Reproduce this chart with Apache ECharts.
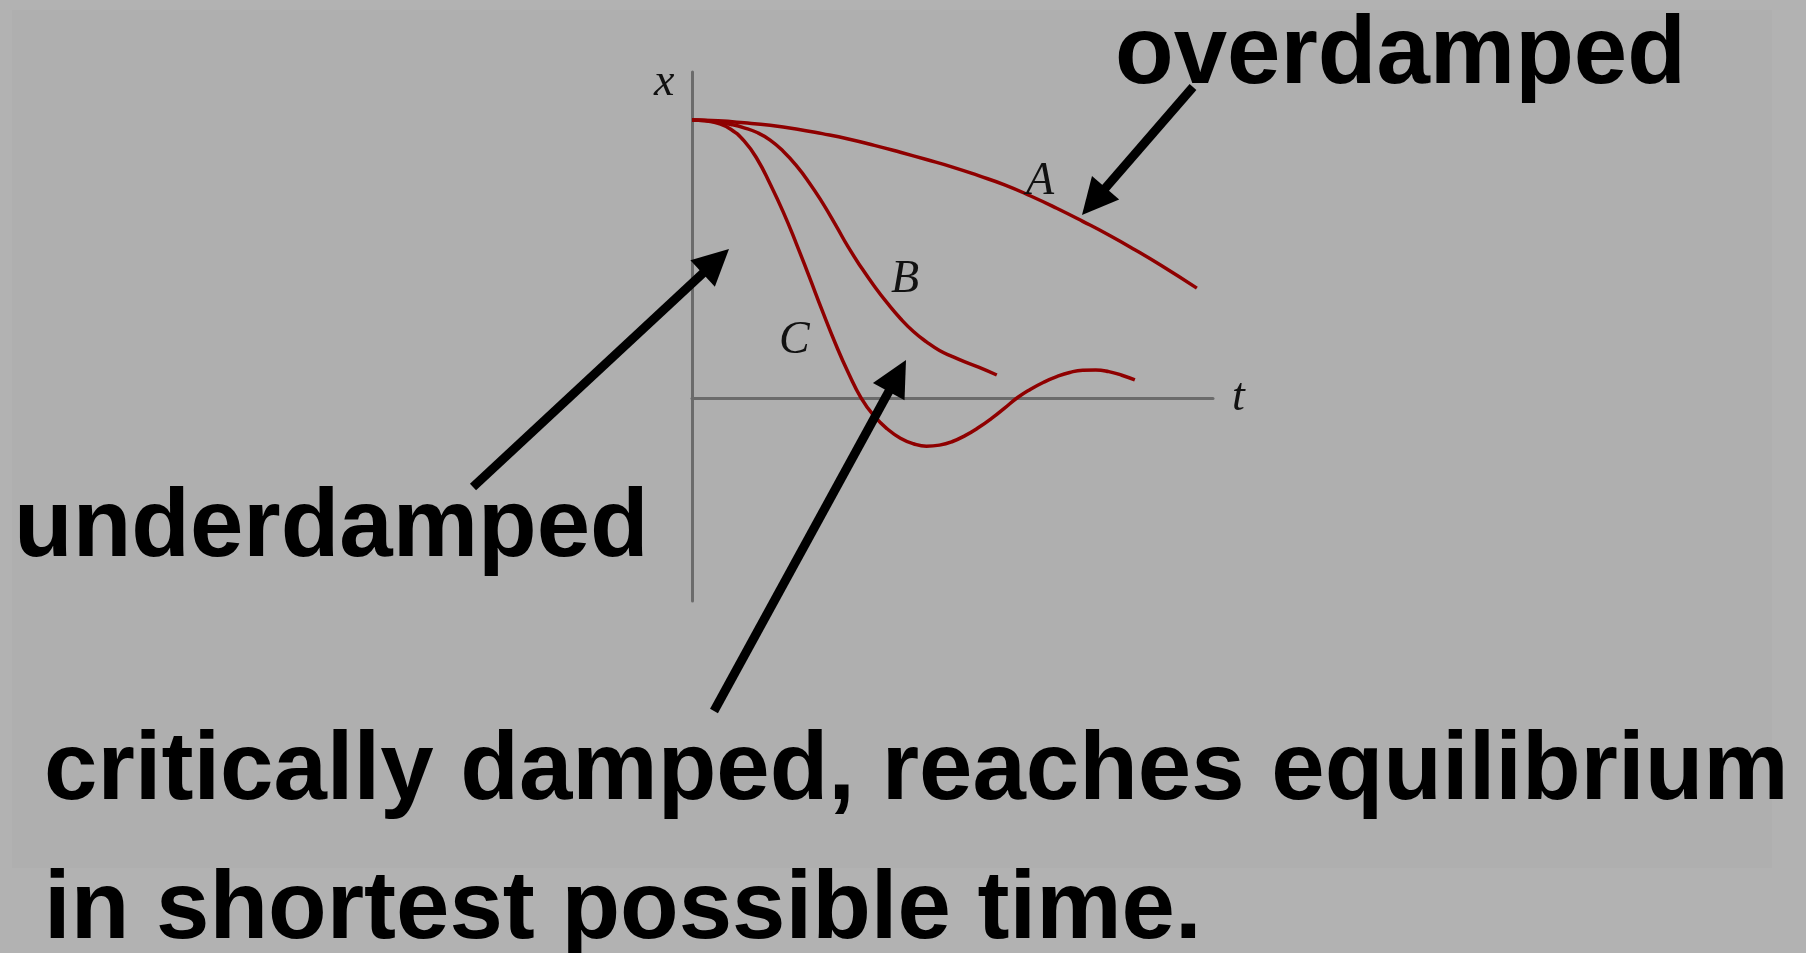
<!DOCTYPE html>
<html>
<head>
<meta charset="utf-8">
<title>damped oscillation</title>
<script src="https://cdn.jsdelivr.net/npm/echarts@6/dist/echarts.min.js"></script>
<style>
html, body { margin: 0; padding: 0; background: #b2b2b2; }
#chart { width: 1806px; height: 953px; }
</style>
</head>
<body>
<div id="chart"></div>
<script>
// curves: t along the axis, x = displacement (start = 1)
var tA = [0, 0.5, 1, 1.5, 2, 2.5, 3, 3.5, 4, 4.5, 5, 5.5, 6, 6.5, 7, 7.5, 8, 8.5, 9, 9.69];
var xA = [1, 0.997, 0.99, 0.981, 0.968, 0.951, 0.932, 0.909, 0.884, 0.858, 0.831, 0.8, 0.767, 0.727, 0.683, 0.636, 0.587, 0.534, 0.478, 0.396];

var tB = [0, 0.25, 0.5, 0.75, 1, 1.25, 1.5, 1.75, 2, 2.25, 2.5, 2.75, 3, 3.25, 3.5, 3.75, 4, 4.25, 4.5, 4.75, 5, 5.25, 5.5, 5.85];
var xB = [1, 0.998, 0.992, 0.984, 0.972, 0.955, 0.928, 0.888, 0.837, 0.775, 0.704, 0.625, 0.543, 0.47, 0.403, 0.342, 0.287, 0.24, 0.203, 0.172, 0.15, 0.13, 0.112, 0.084];

var tC = [0, 0.25, 0.5, 0.75, 1, 1.25, 1.5, 1.75, 2, 2.25, 2.5, 2.75, 3, 3.25, 3.5, 3.75, 4, 4.25, 4.5,
	4.75, 5, 5.25, 5.5, 5.75, 6, 6.25, 6.5, 6.75, 7, 7.25, 7.5, 7.75, 8, 8.25, 8.5];
var xC = [1, 0.997, 0.988, 0.966, 0.925, 0.86, 0.77, 0.67, 0.557, 0.437, 0.315, 0.198, 0.092, 0.0, -0.064, -0.11, -0.143, -0.163, -0.172,
	-0.168, -0.155, -0.133, -0.105, -0.072, -0.035, 0.003, 0.033, 0.058, 0.078, 0.093, 0.101, 0.102, 0.096, 0.083, 0.066];

var curveNames = ['A', 'B', 'C'];

var chart;

window.onload = function() {
	chart = echarts.init(document.getElementById('chart'));
	chart.setOption(buildOption());
};

function pairs(ts, xs) {
	var out = [];
	for (var i = 0; i < ts.length; i++) {
		out.push([ts[i], xs[i]]);
	}
	return out;
}

// arrow from tail to tip, head drawn as a triangle
function arrow(x1, y1, x2, y2) {
	var headLen = 36, halfW = 18;
	var dx = x2 - x1, dy = y2 - y1;
	var len = Math.sqrt(dx * dx + dy * dy);
	var ux = dx / len, uy = dy / len;
	var bx = x2 - ux * headLen, by = y2 - uy * headLen;
	return [{
		type: 'line',
		z: 100,
		shape: { x1: x1, y1: y1, x2: bx + ux * 4, y2: by + uy * 4 },
		style: { stroke: '#000', lineWidth: 9, lineCap: 'butt' }
	}, {
		type: 'polygon',
		z: 100,
		shape: { points: [[x2, y2], [bx - uy * halfW, by + ux * halfW], [bx + uy * halfW, by - ux * halfW]] },
		style: { fill: '#000' }
	}];
}

function bigText(txt, x, y) {
	return {
		type: 'text',
		z: 100,
		x: x,
		y: y,
		style: {
			text: txt,
			font: 'bold 96px "Liberation Sans", Arial, sans-serif',
			fill: '#000',
			verticalAlign: 'middle'
		}
	};
}

function italicText(txt, x, y) {
	return {
		type: 'text',
		z: 90,
		x: x,
		y: y,
		style: {
			text: txt,
			font: 'italic 46px "Liberation Serif", "Times New Roman", serif',
			fill: '#111',
			verticalAlign: 'middle'
		}
	};
}

function buildOption() {
	var lineColor = '#8f0000';
	var axisColor = '#6b6b6b';
	var tSets = [tA, tB, tC], xSets = [xA, xB, xC];

	var series = [];
	for (var i = 0; i < curveNames.length; i++) {
		series.push({
			name: curveNames[i],
			type: 'line',
			smooth: 0.5,
			symbol: 'none',
			clip: false,
			lineStyle: { color: lineColor, width: 3.5 },
			data: pairs(tSets[i], xSets[i])
		});
	}

	var graphics = [{
		type: 'rect',
		z: -10,
		silent: true,
		shape: { x: 12, y: 10, width: 1760, height: 858 },
		style: { fill: '#afafaf' }
	}];
	graphics = graphics.concat(arrow(1193, 87, 1082, 215));
	graphics = graphics.concat(arrow(473, 487, 729, 249));
	graphics = graphics.concat(arrow(714, 711, 906, 360));
	graphics.push(bigText('overdamped', 1115, 57));
	graphics.push(bigText('underdamped', 14, 530));
	graphics.push(bigText('critically damped, reaches equilibrium', 44, 773));
	graphics.push(bigText('in shortest possible time.', 44, 912));
	graphics.push(italicText('x', 654, 83));
	graphics.push(italicText('A', 1026, 182));
	graphics.push(italicText('B', 891, 280));
	graphics.push(italicText('C', 779, 341));

	return {
		backgroundColor: '#b2b2b2',
		animation: false,
		grid: { left: 692, top: 72, right: 593, bottom: 352, outerBoundsMode: 'none' },
		xAxis: {
			type: 'value',
			min: 0,
			max: 10,
			name: 't',
			nameLocation: 'end',
			nameGap: 19,
			nameTextStyle: { fontFamily: 'Liberation Serif', fontStyle: 'italic', fontSize: 46, color: '#111' },
			axisLine: { onZero: true, lineStyle: { color: axisColor, width: 3 } },
			axisTick: { show: false },
			axisLabel: { show: false },
			splitLine: { show: false }
		},
		yAxis: {
			type: 'value',
			min: -0.728,
			max: 1.1725,
			axisLine: { show: true, onZero: false, lineStyle: { color: axisColor, width: 3 } },
			axisTick: { show: false },
			axisLabel: { show: false },
			splitLine: { show: false }
		},
		series: series,
		graphic: graphics
	};
}
</script>
</body>
</html>
